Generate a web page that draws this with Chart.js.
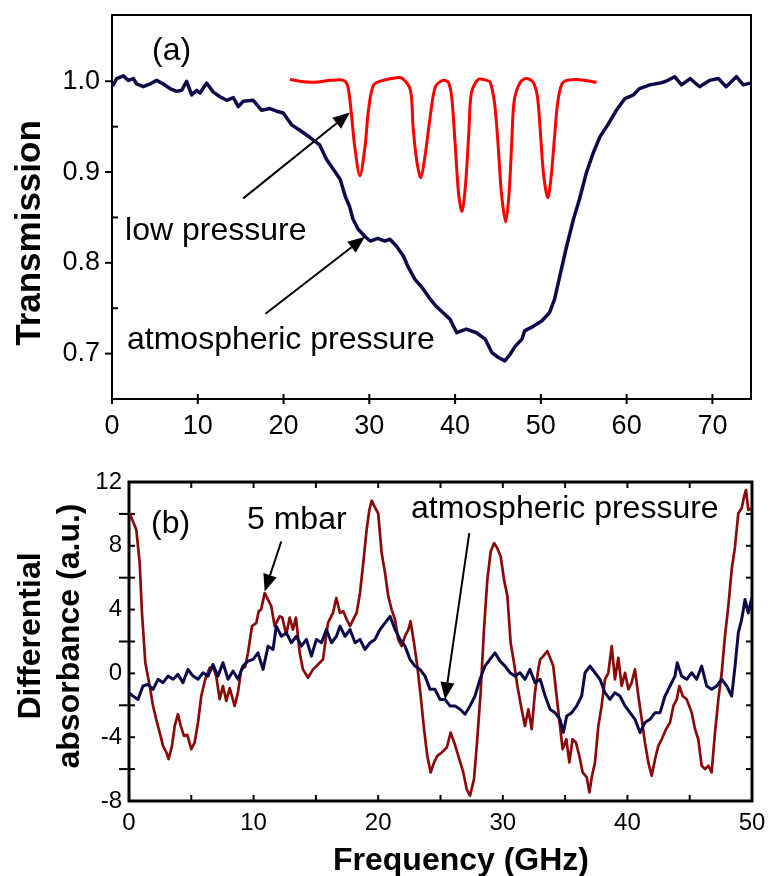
<!DOCTYPE html>
<html>
<head>
<meta charset="utf-8">
<title>Transmission and differential absorbance</title>
<script src="https://cdn.jsdelivr.net/npm/chart.js@4.4.0/dist/chart.umd.min.js"></script>
<style>
    html, body { margin: 0; padding: 0; background: #fff; }
    #wrap { position: relative; width: 776px; height: 876px; }
    canvas { position: absolute; left: 0; }
    #panelA { top: 0; width: 776px; height: 440px; }
    #panelB { top: 440px; width: 776px; height: 436px; }
</style>
</head>
<body>
<div id="wrap">
    <canvas id="panelA" width="776" height="440"></canvas>
    <canvas id="panelB" width="776" height="436"></canvas>
</div>
<script>
// --- Data ---

// panel (a): transmission, atmospheric pressure
const transFreq = [
    0, 0.15, 0.54, 1.32, 1.9, 2.5, 2.87, 3.65, 4.43, 5.2,
    5.98, 6.76, 7.54, 8.12, 8.7, 9.29, 9.87, 10.26, 11.03, 11.81,
    12.59, 13.37, 14.14, 14.72, 15.3, 16.47, 17.45, 18.41, 19.2, 19.97,
    20.94, 21.9, 23.1, 24.2, 25.0, 25.8, 26.6, 27.2, 27.7, 28.1,
    28.7, 29.5, 30.1, 31.0, 31.8, 32.4, 33.2, 34.0, 34.5, 35.3,
    36.3, 37.1, 37.8, 38.6, 39.4, 40.2, 41.3, 42.5, 43.5, 44.3,
    45.0, 45.8, 46.4, 47.0, 47.8, 48.1, 49.1, 50.1, 51.0, 51.6,
    52.2, 53.0, 53.8, 54.5, 55.3, 56.1, 56.9, 57.8, 58.8, 59.8,
    60.8, 61.5, 62.7, 63.9, 64.6, 65.6, 66.4, 67.4, 68.5, 69.7,
    70.7, 71.6, 72.8, 73.6, 74.4
];
const transAtm = [
    0.998, 0.996, 1.003, 1.006, 1.001, 1.003, 0.997, 0.994, 0.997, 1.001,
    0.997, 0.992, 0.989, 0.990, 1.000, 0.985, 0.990, 0.987, 0.998, 0.988,
    0.983, 0.979, 0.982, 0.972, 0.978, 0.979, 0.968, 0.970, 0.967, 0.965,
    0.952, 0.946, 0.938, 0.930, 0.914, 0.903, 0.892, 0.873, 0.862, 0.848,
    0.837, 0.829, 0.824, 0.827, 0.824, 0.826, 0.818, 0.807, 0.796, 0.782,
    0.771, 0.760, 0.752, 0.745, 0.738, 0.723, 0.727, 0.723, 0.716, 0.701,
    0.696, 0.692, 0.699, 0.708, 0.716, 0.725, 0.730, 0.736, 0.745, 0.760,
    0.785, 0.818, 0.848, 0.870, 0.899, 0.921, 0.939, 0.952, 0.968, 0.981,
    0.985, 0.992, 0.996, 0.998, 1.000, 1.005, 0.996, 1.003, 0.994, 1.001,
    1.003, 0.994, 1.005, 0.996, 0.998
];

// panel (a): transmission, low pressure
const lowFreq = [
    20.75, 21.9, 23.6, 25.5, 27.0, 27.5, 27.9, 28.3, 28.9, 29.5,
    29.9, 30.5, 31.6, 33.2, 33.9, 34.8, 35.1, 35.5, 36.0, 36.5,
    37.1, 37.7, 38.6, 39.2, 39.6, 40.0, 40.4, 40.8, 41.2, 41.6,
    41.9, 42.7, 43.7, 44.1, 44.6, 45.0, 45.4, 45.9, 46.3, 46.6,
    46.9, 47.6, 48.3, 49.1, 49.6, 49.9, 50.3, 50.8, 51.2, 51.6,
    52.0, 52.6, 54.2, 56.5
];
const lowTrans = [
    1.002, 1.0, 0.999, 1.001, 1.001, 0.994, 0.965, 0.928, 0.896, 0.928,
    0.968, 0.996, 1.001, 1.004, 1.003, 0.990, 0.950, 0.914, 0.894, 0.918,
    0.961, 0.994, 1.001, 0.999, 0.983, 0.932, 0.877, 0.857, 0.884, 0.943,
    0.987, 1.002, 1.001, 0.999, 0.976, 0.932, 0.877, 0.845, 0.877, 0.932,
    0.979, 0.999, 1.003, 0.999, 0.983, 0.950, 0.899, 0.872, 0.895, 0.939,
    0.979, 0.999, 1.002, 0.999
];

// panel (b): differential absorbance, 5 mbar
const mbarFreq = [
    0.05, 0.59, 0.86, 1.04, 1.31, 1.66, 1.93, 2.19, 2.46, 2.73,
    3.0, 3.18, 3.45, 3.67, 3.93, 4.15, 4.41, 4.68, 5.0, 5.27,
    5.54, 5.8, 6.12, 6.48, 6.74, 7.0, 7.28, 7.54, 7.81, 8.08,
    8.48, 8.75, 9.01, 9.33, 9.55, 9.87, 10.22, 10.41, 10.6, 10.89,
    11.15, 11.42, 11.69, 12.09, 12.3, 12.62, 12.9, 13.16, 13.4, 13.7,
    13.96, 14.37, 14.77, 15.17, 15.57, 15.97, 16.37, 16.64, 16.93, 17.2,
    17.47, 17.74, 18.0, 18.27, 18.54, 18.8, 19.07, 19.29, 19.48, 19.74,
    20.0, 20.28, 20.55, 20.81, 21.08, 21.35, 21.61, 21.88, 22.15, 22.42,
    22.6, 22.87, 23.14, 23.41, 23.68, 23.94, 24.21, 24.48, 24.75, 25.1,
    25.5, 25.82, 26.1, 26.43, 26.83, 27.1, 27.37, 27.69, 27.95, 28.22,
    28.49, 28.76, 29.03, 29.3, 29.56, 29.83, 30.1, 30.37, 30.63, 30.9,
    31.17, 31.51, 31.78, 32.05, 32.32, 32.58, 32.85, 33.0, 33.25, 33.57,
    33.84, 34.05, 34.32, 34.59, 34.8, 35.1, 35.34, 35.6, 35.87, 36.14,
    36.41, 36.74, 36.95, 37.16, 37.4, 37.67, 37.93, 38.2, 38.47, 38.74,
    39.0, 39.27, 39.54, 39.81, 40.08, 40.34, 40.61, 40.88, 41.15, 41.41,
    41.68, 41.95, 42.22, 42.48, 42.75, 43.1, 43.42, 43.69, 43.96, 44.17,
    44.44, 44.76, 45.16, 45.43, 45.69, 45.96, 46.23, 46.5, 46.76, 47.03,
    47.3, 47.57, 47.83, 48.1, 48.37, 48.64, 48.9, 49.17, 49.36, 49.52,
    49.7, 49.98
];
const mbarAbs = [
    10.04, 9.0, 6.9, 3.8, 0.67, -0.79, -2.04, -2.9, -3.7, -4.54,
    -4.96, -5.37, -4.54, -3.29, -2.56, -3.29, -3.92, -3.85, -4.75, -4.33,
    -3.08, -1.42, -0.37, 0.35, 0.42, -0.17, -1.62, -0.79, -1.73, -0.92,
    -2.04, -1.17, 0.25, 0.42, 1.29, 2.96, 3.17, 3.9, 4.0, 5.04,
    4.63, 4.21, 2.96, 3.58, 3.5, 2.44, 3.5, 2.75, 3.5, 1.29,
    0.25, -0.27, 0.25, 0.56, 0.88, 3.17, 3.79, 4.73, 3.79, 3.9,
    3.38, 2.96, 3.38, 3.79, 5.04, 6.92, 9.0, 10.25, 10.83, 10.4,
    10.04, 7.54, 6.29, 4.83, 4.0, 3.38, 2.13, 1.71, 2.33, 2.75,
    3.27, 1.92, 0.46, -1.42, -3.5, -5.17, -6.21, -5.58, -5.17, -4.96,
    -4.65, -3.71, -4.33, -5.17, -6.21, -7.25, -7.67, -6.63, -4.13, -1.21,
    2.75, 5.88, 7.65, 8.17, 7.85, 7.33, 5.88, 4.83, 1.92, 0.67,
    -0.79, -2.25, -3.29, -2.25, -3.5, -1.21, 0.25, 0.88, 1.08, 1.4,
    0.88, 0.46, -1.42, -3.29, -4.75, -4.13, -5.58, -4.13, -4.33, -5.17,
    -6.21, -6.52, -7.46, -6.42, -5.58, -3.29, -2.04, -0.37, 0.04, 1.71,
    -0.37, 0.98, -0.79, 0.04, -1.0, -0.58, 0.25, -1.42, -2.88, -4.33,
    -5.58, -6.42, -5.38, -4.54, -4.13, -3.5, -3.08, -2.04, -1.63, -0.79,
    -1.42, -1.63, -2.46, -3.5, -4.13, -5.79, -6.0, -5.79, -6.21, -3.71,
    -1.63, 0.04, 2.33, 4.21, 6.5, 7.96, 10.04, 10.35, 11.08, 11.5,
    10.25, 10.35
];

// panel (b): differential absorbance, atmospheric pressure
const atmFreq = [
    0, 0.32, 0.72, 1.12, 1.52, 1.93, 2.33, 2.73, 3.13, 3.54,
    3.93, 4.33, 4.73, 5.14, 5.54, 5.94, 6.34, 6.74, 7.14, 7.54,
    7.95, 8.35, 8.75, 9.15, 9.55, 9.96, 10.35, 10.76, 11.16, 11.56,
    11.82, 12.23, 12.63, 13.03, 13.43, 13.84, 14.24, 14.64, 15.04, 15.45,
    15.84, 16.25, 16.65, 16.93, 17.34, 17.74, 18.14, 18.54, 18.94, 19.35,
    19.74, 20.14, 20.55, 20.95, 21.35, 21.75, 22.15, 22.55, 22.95, 23.35,
    23.76, 24.16, 24.56, 24.96, 25.36, 25.76, 26.17, 26.57, 26.97, 27.37,
    27.77, 28.17, 28.57, 28.97, 29.37, 29.78, 30.18, 30.58, 30.98, 31.38,
    31.78, 32.18, 32.58, 33.0, 33.4, 33.79, 34.19, 34.59, 34.86, 35.13,
    35.53, 35.93, 36.33, 36.6, 37.0, 37.4, 37.8, 38.2, 38.6, 39.0,
    39.4, 39.81, 40.21, 40.61, 41.01, 41.41, 41.81, 42.22, 42.62, 43.02,
    43.42, 43.82, 44.0, 44.35, 44.76, 45.16, 45.56, 45.96, 46.36, 46.76,
    47.17, 47.57, 47.97, 48.37, 48.64, 48.9, 49.17, 49.44, 49.7, 50.0
];
const atmAbs = [
    -1.21, -1.42, -1.63, -0.79, -0.69, -1.0, -0.37, -0.58, -0.17, -0.37,
    -0.06, -0.58, 0.25, -0.17, -0.37, 0.04, -0.17, 0.56, -0.17, 0.67,
    -0.37, 0.15, -0.37, 0.46, 0.77, 0.88, 1.29, 0.25, 1.71, 1.5,
    2.96, 2.33, 2.54, 1.92, 2.33, 1.71, 2.13, 1.08, 2.13, 1.92,
    2.75, 1.92, 2.33, 2.96, 2.33, 2.75, 1.92, 2.13, 1.5, 1.92,
    2.13, 2.75, 3.17, 3.58, 2.75, 2.13, 1.71, 0.88, 0.46, 0.25,
    -0.17, -1.0, -1.0, -1.63, -1.63, -2.04, -2.04, -2.25, -2.56, -2.04,
    -1.42, -0.37, 0.46, 0.88, 1.29, 0.77, 0.46, 0.04, -0.17, 0.04,
    -0.37, 0.25, -0.58, -0.37, -1.42, -2.25, -2.46, -2.88, -3.71, -2.67,
    -2.46, -2.04, -1.42, 0.04, 0.46, 0.04, -0.37, -1.21, -1.63, -1.21,
    -1.42, -2.04, -2.46, -2.88, -3.71, -3.08, -2.88, -2.46, -2.46, -1.42,
    -0.79, -0.17, 0.67, -0.17, -0.37, 0.04, -0.37, 0.46, -0.79, -1.0,
    -0.79, -0.37, -0.79, -1.42, 0.46, 2.54, 3.38, 4.63, 3.79, 4.8
];

// tick values
const aXTicks = [0, 10, 20, 30, 40, 50, 60, 70];
const aYLabels = [0.7, 0.8, 0.9, 1.0];
const aYMinor = [0.75, 0.85, 0.95];
const bXLabels = [0, 10, 20, 30, 40, 50];
const bXAll = [0, 5, 10, 15, 20, 25, 30, 35, 40, 45, 50];
const bYLabels = [-8, -4, 0, 4, 8, 12];
const bYAll = [-8, -6, -4, -2, 0, 2, 4, 6, 8, 10, 12];
const bYMinor = [-6, -2, 2, 6, 10];

// --- Styling ---
const FONT = "'Liberation Sans', Arial, Helvetica, sans-serif";
const NAVY = '#0b0b4b';
const RED = '#ff0000';
const DARK_RED = '#8b0a0a';

Chart.defaults.font.family = FONT;
Chart.defaults.color = '#000';

function toPoints(xs, ys) {
    return xs.map((x, i) => ({ x: x, y: ys[i] }));
}

// --- Plugins ---
// frame and tick marks (ticks placed through the chart's scales)
const frameTicks = {
    id: 'frameTicks',
    beforeDatasetsDraw(chart, args, opts) {
        const { ctx, chartArea: a, scales } = chart;
        ctx.save();
        ctx.strokeStyle = '#000';
        ctx.lineWidth = opts.lineWidth;
        ctx.strokeRect(a.left, a.top, a.right - a.left, a.bottom - a.top);
        ctx.lineWidth = opts.tickWidth;
        opts.marks.forEach(m => {
            const s = scales[m.side === 'left' || m.side === 'right' ? 'y' : 'x'];
            m.values.forEach(v => {
                const p = s.getPixelForValue(v);
                ctx.beginPath();
                if (m.side === 'bottom') { ctx.moveTo(p, a.bottom + m.outer); ctx.lineTo(p, a.bottom - m.inner); }
                if (m.side === 'top') { ctx.moveTo(p, a.top - m.outer); ctx.lineTo(p, a.top + m.inner); }
                if (m.side === 'left') { ctx.moveTo(a.left - m.outer, p); ctx.lineTo(a.left + m.inner, p); }
                if (m.side === 'right') { ctx.moveTo(a.right + m.outer, p); ctx.lineTo(a.right - m.inner, p); }
                ctx.stroke();
            });
        });
        ctx.restore();
    }
};

function drawArrow(ctx, x0, y0, x1, y1) {
    const ang = Math.atan2(y1 - y0, x1 - x0);
    const len = 17, half = 7;
    const bx = x1 - len * Math.cos(ang), by = y1 - len * Math.sin(ang);
    ctx.beginPath();
    ctx.moveTo(x0, y0);
    ctx.lineTo(bx, by);
    ctx.stroke();
    ctx.beginPath();
    ctx.moveTo(x1, y1);
    ctx.lineTo(bx + half * Math.sin(ang), by - half * Math.cos(ang));
    ctx.lineTo(bx - half * Math.sin(ang), by + half * Math.cos(ang));
    ctx.closePath();
    ctx.fill();
}

// in-plot labels and arrows, given in data coordinates
const notes = {
    id: 'notes',
    afterDatasetsDraw(chart, args, opts) {
        const { ctx, scales: { x, y } } = chart;
        ctx.save();
        ctx.fillStyle = '#000';
        ctx.strokeStyle = '#000';
        ctx.lineWidth = 2;
        ctx.font = opts.size + 'px ' + FONT;
        ctx.textAlign = 'left';
        ctx.textBaseline = 'alphabetic';
        opts.labels.forEach(l => ctx.fillText(l.text, x.getPixelForValue(l.x), y.getPixelForValue(l.y)));
        opts.arrows.forEach(a => drawArrow(ctx,
            x.getPixelForValue(a.from[0]), y.getPixelForValue(a.from[1]),
            x.getPixelForValue(a.to[0]), y.getPixelForValue(a.to[1])));
        ctx.restore();
    }
};

// axis titles (bold, some rotated)
const axisTitles = {
    id: 'axisTitles',
    afterDraw(chart, args, opts) {
        const ctx = chart.ctx;
        ctx.save();
        ctx.fillStyle = '#000';
        ctx.textAlign = 'center';
        ctx.textBaseline = 'alphabetic';
        opts.items.forEach(t => {
            ctx.font = 'bold ' + t.size + 'px ' + FONT;
            ctx.save();
            ctx.translate(t.x, t.y);
            if (t.rotate) ctx.rotate(-Math.PI / 2);
            ctx.fillText(t.text, 0, 0);
            ctx.restore();
        });
        ctx.restore();
    }
};

function fixedScale(size, isX) {
    return function(s) {
        if (isX) s.height = size; else s.width = size;
        s.paddingTop = 0; s.paddingBottom = 0; s.paddingLeft = 0; s.paddingRight = 0;
    };
}

// --- Panel (a) ---
new Chart(document.getElementById('panelA'), {
    type: 'line',
    data: {
        datasets: [
            { label: 'atmospheric pressure', data: toPoints(transFreq, transAtm), borderColor: NAVY, borderWidth: 3.5, pointRadius: 0, tension: 0, borderJoinStyle: 'round' },
            { label: 'low pressure', data: toPoints(lowFreq, lowTrans), borderColor: RED, borderWidth: 3, pointRadius: 0, tension: 0.3, borderJoinStyle: 'round' }
        ]
    },
    options: {
        responsive: false,
        animation: false,
        devicePixelRatio: 1,
        layout: { padding: { left: 0, right: 25, top: 15, bottom: 0 } },
        plugins: {
            legend: { display: false },
            tooltip: { enabled: false },
            frameTicks: {
                lineWidth: 2, tickWidth: 2,
                marks: [
                    { side: 'left', values: aYLabels, inner: 0, outer: 7 },
                    { side: 'left', values: aYMinor, inner: 6, outer: 0 },
                    { side: 'bottom', values: aXTicks, inner: 5, outer: 5 }
                ]
            },
            notes: {
                size: 32,
                labels: [
                    { text: '(a)', x: 4.66, y: 1.0234 },
                    { text: 'low pressure', x: 1.52, y: 0.8256 },
                    { text: 'atmospheric pressure', x: 1.75, y: 0.7047 }
                ],
                arrows: [
                    { from: [15.3, 0.871], to: [27.74, 0.9655] },
                    { from: [17.9, 0.744], to: [29.49, 0.8286] }
                ]
            },
            axisTitles: {
                items: [{ text: 'Transmission', x: 40, y: 233, rotate: true, size: 35 }]
            }
        },
        scales: {
            x: {
                type: 'linear', min: 0, max: 74.5,
                grid: { display: false, drawTicks: false }, border: { display: false },
                ticks: { font: { size: 27 }, padding: 11, maxRotation: 0 },
                afterBuildTicks: s => { s.ticks = aXTicks.map(v => ({ value: v })); },
                afterFit: fixedScale(41, true)
            },
            y: {
                type: 'linear', min: 0.65, max: 1.073,
                grid: { display: false, drawTicks: false }, border: { display: false },
                ticks: { font: { size: 27 }, padding: 12, callback: v => v.toFixed(1) },
                afterBuildTicks: s => { s.ticks = aYLabels.map(v => ({ value: v })); },
                afterFit: fixedScale(112, false)
            }
        }
    },
    plugins: [frameTicks, notes, axisTitles]
});

// --- Panel (b) ---
new Chart(document.getElementById('panelB'), {
    type: 'line',
    data: {
        datasets: [
            { label: 'atmospheric pressure', data: toPoints(atmFreq, atmAbs), borderColor: NAVY, borderWidth: 3, pointRadius: 0, tension: 0, borderJoinStyle: 'round' },
            { label: '5 mbar', data: toPoints(mbarFreq, mbarAbs), borderColor: DARK_RED, borderWidth: 2.7, pointRadius: 0, tension: 0, borderJoinStyle: 'round' }
        ]
    },
    options: {
        responsive: false,
        animation: false,
        devicePixelRatio: 1,
        layout: { padding: { left: 0, right: 24, top: 42, bottom: 0 } },
        plugins: {
            legend: { display: false },
            tooltip: { enabled: false },
            frameTicks: {
                lineWidth: 3, tickWidth: 2,
                marks: [
                    { side: 'left', values: bYAll, inner: 6, outer: 0 },
                    { side: 'left', values: bYMinor, inner: 0, outer: 10 },
                    { side: 'right', values: bYAll, inner: 6, outer: 0 },
                    { side: 'bottom', values: bXAll, inner: 6, outer: 0 },
                    { side: 'top', values: bXAll, inner: 6, outer: 0 }
                ]
            },
            notes: {
                size: 32,
                labels: [
                    { text: '(b)', x: 1.77, y: 8.81 },
                    { text: '5 mbar', x: 9.47, y: 9.06 },
                    { text: 'atmospheric pressure', x: 22.63, y: 9.75 }
                ],
                arrows: [
                    { from: [12.22, 8.27], to: [10.89, 5.14] },
                    { from: [27.31, 8.79], to: [25.36, -1.63] }
                ]
            },
            axisTitles: {
                items: [
                    { text: 'Differential', x: 40, y: 196, rotate: true, size: 32 },
                    { text: 'absorbance (a.u.)', x: 79, y: 196, rotate: true, size: 32 },
                    { text: 'Frequency (GHz)', x: 461, y: 430, rotate: false, size: 32 }
                ]
            }
        },
        scales: {
            x: {
                type: 'linear', min: 0, max: 50,
                grid: { display: false, drawTicks: false }, border: { display: false },
                ticks: { font: { size: 24 }, padding: 8, maxRotation: 0 },
                afterBuildTicks: s => { s.ticks = bXLabels.map(v => ({ value: v })); },
                afterFit: fixedScale(75, true)
            },
            y: {
                type: 'linear', min: -8, max: 12,
                grid: { display: false, drawTicks: false }, border: { display: false },
                ticks: { font: { size: 24 }, padding: 7 },
                afterBuildTicks: s => { s.ticks = bYLabels.map(v => ({ value: v })); },
                afterFit: fixedScale(129, false)
            }
        }
    },
    plugins: [frameTicks, notes, axisTitles]
});
</script>
</body>
</html>
